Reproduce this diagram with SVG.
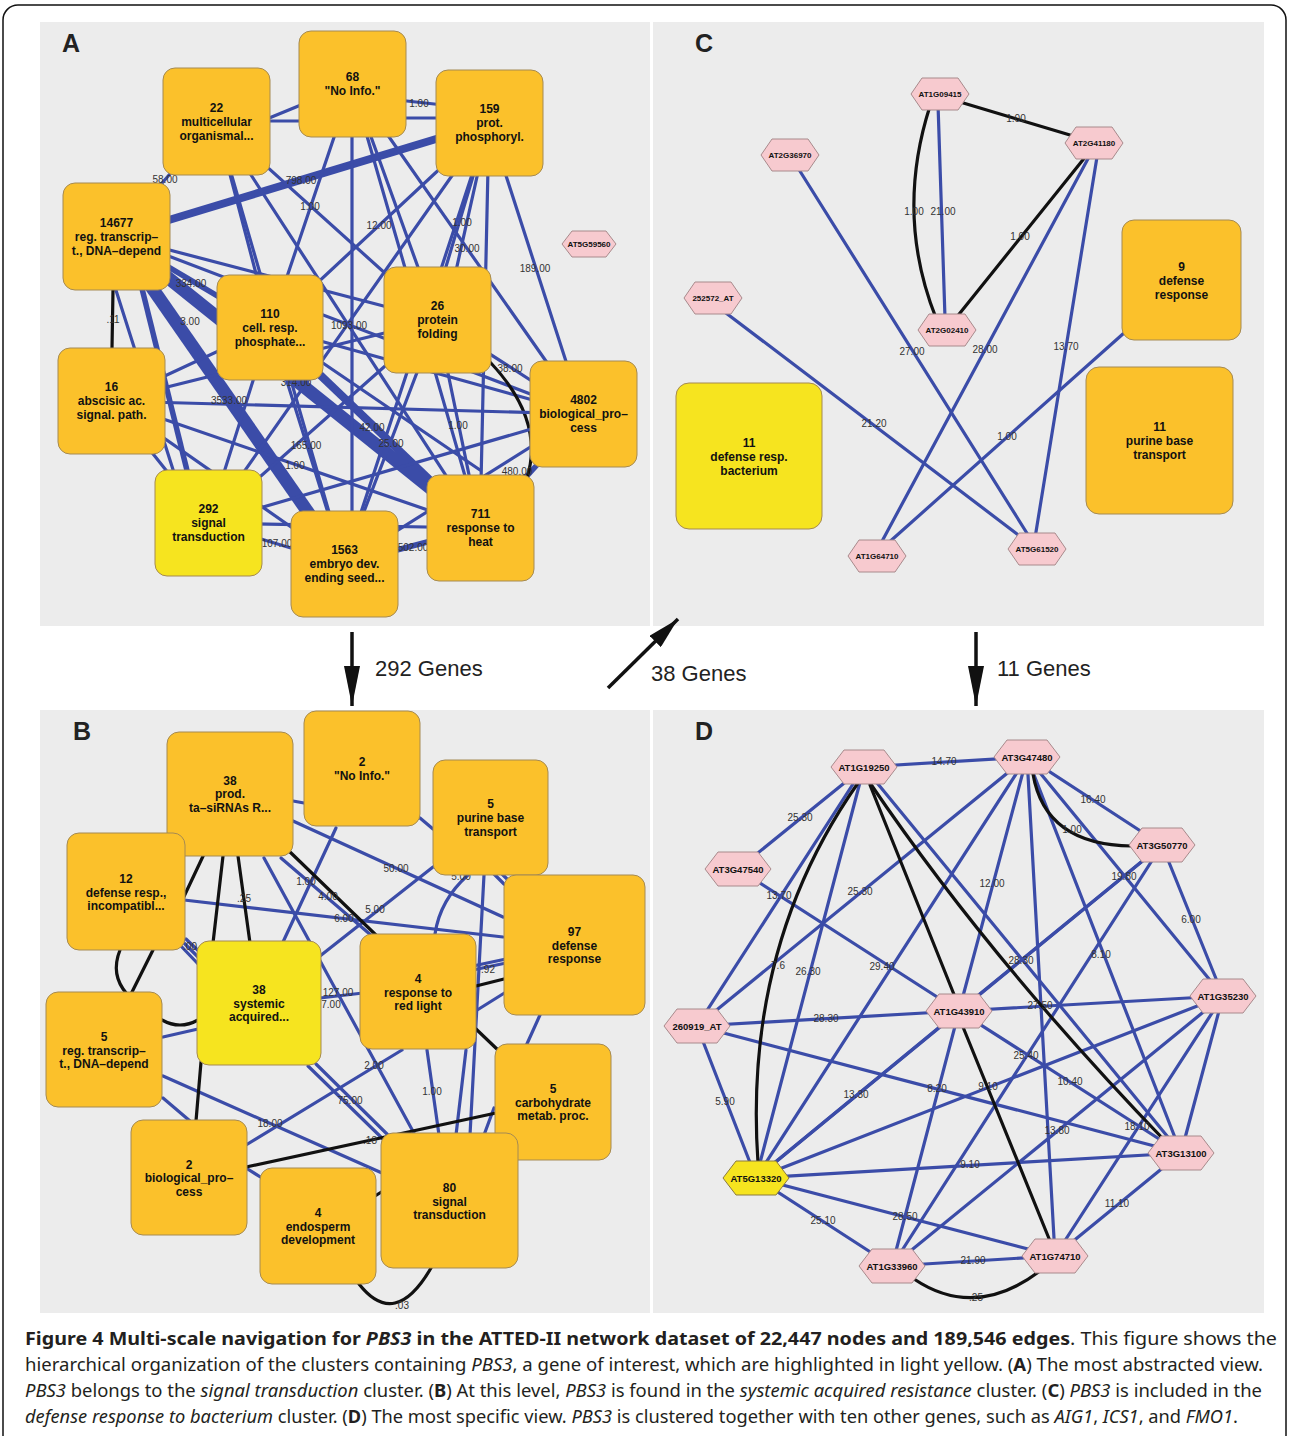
<svg xmlns="http://www.w3.org/2000/svg" width="1290" height="1436" viewBox="0 0 1290 1436">
<defs>
<style>
.bg{fill:#ececec}
.bx{fill:#fbc12b;stroke:#a58a52;stroke-width:1}
.by{fill:#f6e41f;stroke:#a58a52;stroke-width:1}
.hx{fill:#f7cacf;stroke:#a88a8c;stroke-width:1}
.hy{fill:#f6e41f;stroke:#8a7a40;stroke-width:1}
.e{stroke:#3b4ca8;stroke-width:3.2;fill:none;stroke-linecap:round}
.e5{stroke:#3b4ca8;stroke-width:5.5;fill:none}
.e8{stroke:#3b4ca8;stroke-width:8;fill:none}
.e13{stroke:#3b4ca8;stroke-width:13;fill:none}
.k{stroke:#111;stroke-width:3.2;fill:none;stroke-linecap:round}
.nl{font-family:"Liberation Sans",Arial,sans-serif;font-weight:bold;font-size:12px;fill:#111;text-anchor:middle}
.hc{font-family:"Liberation Sans",Arial,sans-serif;font-weight:bold;font-size:8px;fill:#111;text-anchor:middle}
.hd{font-family:"Liberation Sans",Arial,sans-serif;font-weight:bold;font-size:9.5px;fill:#111;text-anchor:middle}
.el{font-family:"Liberation Sans",Arial,sans-serif;font-size:10px;fill:#333;text-anchor:middle}
.pl{font-family:"Liberation Sans",Arial,sans-serif;font-weight:bold;font-size:25px;fill:#222}
.ar{stroke:#111;stroke-width:3.5;fill:none}
.gl{font-family:"Liberation Sans",Arial,sans-serif;font-size:22px;fill:#222}
.cap{font-family:"Noto Sans","Open Sans",sans-serif;font-size:18px;fill:#231f20}
</style>
<marker id="ah" viewBox="0 0 40 16" refX="40" refY="8" markerWidth="40" markerHeight="16" markerUnits="userSpaceOnUse" orient="auto"><path d="M0,0 L40,8 L0,16 Z" fill="#111"/></marker>
<marker id="ah2" viewBox="0 0 32 16" refX="32" refY="8" markerWidth="32" markerHeight="16" markerUnits="userSpaceOnUse" orient="auto"><path d="M0,0 L32,8 L0,16 Z" fill="#111"/></marker>
<polygon id="hexC" points="-29,0 -18,-16 18,-16 29,0 18,16 -18,16"/>
<polygon id="hexD" points="-33,0 -20,-17 20,-17 33,0 20,17 -20,17"/>
<polygon id="hexS" points="-27,0 -17,-13 17,-13 27,0 17,13 -17,13"/>
</defs>

<rect x="3" y="5" width="1283" height="1445" rx="15" fill="#fff" stroke="#111" stroke-width="1.5"/>

<!-- panel backgrounds -->
<rect class="bg" x="40" y="22" width="610" height="604"/>
<rect class="bg" x="653" y="22" width="611" height="604"/>
<rect class="bg" x="40" y="710" width="610" height="603"/>
<rect class="bg" x="653" y="710" width="611" height="603"/>
<text class="pl" x="62" y="52">A</text>
<text class="pl" x="695" y="52">C</text>
<text class="pl" x="73" y="740">B</text>
<text class="pl" x="695" y="740">D</text>

<!-- ============ PANEL A ============ -->
<g id="a-edges">
<line class="e13" x1="116" y1="236" x2="344" y2="564"/>
<line class="e13" x1="116" y1="236" x2="480" y2="528"/>
<line class="e8" x1="116" y1="236" x2="489" y2="123"/>
<line class="e8" x1="270" y1="327" x2="480" y2="528"/>
<line class="e5" x1="116" y1="236" x2="270" y2="327"/>
<line class="e5" x1="130" y1="240" x2="200" y2="523"/>
<line class="e" x1="100" y1="240" x2="190" y2="523"/>
<line class="e5" x1="344" y1="564" x2="480" y2="528"/>
<line class="e5" x1="480" y1="528" x2="583" y2="414"/>
<line class="e" x1="116" y1="236" x2="216" y2="121"/>
<line class="e" x1="116" y1="236" x2="437" y2="320"/>
<line class="e" x1="116" y1="236" x2="583" y2="414"/>
<line class="k" x1="113" y1="290" x2="112" y2="348"/>
<line class="e" x1="216" y1="140" x2="352" y2="84"/>
<line class="e" x1="216" y1="121" x2="352" y2="121"/>
<line class="e" x1="216" y1="121" x2="270" y2="327"/>
<line class="e" x1="216" y1="121" x2="344" y2="564"/>
<line class="e" x1="216" y1="121" x2="480" y2="528"/>
<line class="e" x1="216" y1="121" x2="437" y2="320"/>
<line class="e" x1="352" y1="95" x2="489" y2="110"/>
<line class="e" x1="352" y1="118" x2="489" y2="118"/>
<line class="e" x1="352" y1="84" x2="270" y2="327"/>
<line class="e" x1="352" y1="84" x2="352" y2="564"/>
<line class="e" x1="352" y1="84" x2="437" y2="320"/>
<line class="e" x1="352" y1="84" x2="583" y2="414"/>
<line class="e" x1="352" y1="84" x2="480" y2="528"/>
<line class="e" x1="489" y1="123" x2="270" y2="327"/>
<line class="e" x1="489" y1="123" x2="208" y2="523"/>
<line class="e" x1="489" y1="123" x2="430" y2="320"/>
<line class="e" x1="489" y1="123" x2="445" y2="320"/>
<line class="e" x1="489" y1="123" x2="480" y2="528"/>
<line class="e" x1="489" y1="123" x2="583" y2="414"/>
<line class="e" x1="489" y1="123" x2="344" y2="564"/>
<line class="e" x1="270" y1="327" x2="583" y2="414"/>
<line class="e" x1="270" y1="327" x2="208" y2="523"/>
<line class="e" x1="270" y1="327" x2="344" y2="564"/>
<line class="e" x1="437" y1="320" x2="480" y2="528"/>
<line class="e" x1="437" y1="320" x2="344" y2="564"/>
<line class="e" x1="437" y1="320" x2="208" y2="523"/>
<line class="e" x1="437" y1="320" x2="111" y2="401"/>
<line class="e" x1="437" y1="320" x2="583" y2="414"/>
<path class="k" d="M490,362 Q545,420 527,478"/>
<line class="e" x1="111" y1="401" x2="583" y2="414"/>
<line class="e" x1="111" y1="401" x2="480" y2="528"/>
<line class="e" x1="111" y1="401" x2="344" y2="564"/>
<line class="e" x1="111" y1="401" x2="208" y2="523"/>
<line class="e" x1="111" y1="401" x2="270" y2="327"/>
<line class="e" x1="208" y1="523" x2="583" y2="414"/>
<line class="e" x1="208" y1="523" x2="344" y2="564"/>
<line class="e" x1="208" y1="523" x2="480" y2="528"/>
<line class="e" x1="344" y1="564" x2="583" y2="414"/>
<line class="e" x1="270" y1="327" x2="480" y2="470"/>
</g>
<g id="a-edge-labels">
<text class="el" x="419" y="107">1.00</text>
<text class="el" x="165" y="183">58.00</text>
<text class="el" x="301" y="184">798.00</text>
<text class="el" x="310" y="210">1.00</text>
<text class="el" x="379" y="229">12.00</text>
<text class="el" x="462" y="226">1.00</text>
<text class="el" x="467" y="252">30.00</text>
<text class="el" x="535" y="272">189.00</text>
<text class="el" x="191" y="287">334.00</text>
<text class="el" x="113" y="323">.11</text>
<text class="el" x="190" y="325">3.00</text>
<text class="el" x="349" y="329">1093.00</text>
<text class="el" x="296" y="386">314.00</text>
<text class="el" x="229" y="404">3533.00</text>
<text class="el" x="372" y="431">42.00</text>
<text class="el" x="391" y="447">25.00</text>
<text class="el" x="306" y="449">165.00</text>
<text class="el" x="295" y="469">1.00</text>
<text class="el" x="458" y="429">1.00</text>
<text class="el" x="510" y="372">38.00</text>
<text class="el" x="517" y="475">480.00</text>
<text class="el" x="277" y="547">107.00</text>
<text class="el" x="413" y="551">502.00</text>
</g>
<g id="a-n22"><rect class="bx" x="163" y="68" width="107" height="107" rx="12"/><text class="nl"><tspan x="216.5" y="111.5">22</tspan><tspan x="216.5" y="125.5">multicellular</tspan><tspan x="216.5" y="139.5">organismal...</tspan></text></g>
<g id="a-n68"><rect class="bx" x="299" y="31" width="107" height="106" rx="12"/><text class="nl"><tspan x="352.5" y="81">68</tspan><tspan x="352.5" y="95">"No Info."</tspan></text></g>
<g id="a-n159"><rect class="bx" x="436" y="70" width="107" height="106" rx="12"/><text class="nl"><tspan x="489.5" y="113">159</tspan><tspan x="489.5" y="127">prot.</tspan><tspan x="489.5" y="141">phosphoryl.</tspan></text></g>
<g id="a-n14677"><rect class="bx" x="63" y="183" width="107" height="107" rx="12"/><text class="nl"><tspan x="116.5" y="226.5">14677</tspan><tspan x="116.5" y="240.5">reg. transcrip–</tspan><tspan x="116.5" y="254.5">t., DNA–depend</tspan></text></g>
<g id="a-n110"><rect class="bx" x="217" y="275" width="106" height="105" rx="12"/><text class="nl"><tspan x="270" y="317.5">110</tspan><tspan x="270" y="331.5">cell. resp.</tspan><tspan x="270" y="345.5">phosphate...</tspan></text></g>
<g id="a-n26"><rect class="bx" x="384" y="267" width="107" height="106" rx="12"/><text class="nl"><tspan x="437.5" y="310">26</tspan><tspan x="437.5" y="324">protein</tspan><tspan x="437.5" y="338">folding</tspan></text></g>
<g id="a-n16"><rect class="bx" x="58" y="348" width="107" height="106" rx="12"/><text class="nl"><tspan x="111.5" y="391">16</tspan><tspan x="111.5" y="405">abscisic ac.</tspan><tspan x="111.5" y="419">signal. path.</tspan></text></g>
<g id="a-n4802"><rect class="bx" x="530" y="361" width="107" height="106" rx="12"/><text class="nl"><tspan x="583.5" y="404">4802</tspan><tspan x="583.5" y="418">biological_pro–</tspan><tspan x="583.5" y="432">cess</tspan></text></g>
<g id="a-n292"><rect class="by" x="155" y="470" width="107" height="106" rx="12"/><text class="nl"><tspan x="208.5" y="513">292</tspan><tspan x="208.5" y="527">signal</tspan><tspan x="208.5" y="541">transduction</tspan></text></g>
<g id="a-n1563"><rect class="bx" x="291" y="511" width="107" height="106" rx="12"/><text class="nl"><tspan x="344.5" y="554">1563</tspan><tspan x="344.5" y="568">embryo dev.</tspan><tspan x="344.5" y="582">ending seed...</tspan></text></g>
<g id="a-n711"><rect class="bx" x="427" y="475" width="107" height="106" rx="12"/><text class="nl"><tspan x="480.5" y="518">711</tspan><tspan x="480.5" y="532">response to</tspan><tspan x="480.5" y="546">heat</tspan></text></g>
<g id="a-at5g59560"><use href="#hexS" class="hx" x="589" y="244"/><text class="hc" x="589" y="247">AT5G59560</text></g>

<!-- ============ PANEL B ============ -->
<g id="b-edges">
<line class="e" x1="293" y1="801" x2="304" y2="803"/>
<line class="e" x1="293" y1="821" x2="503" y2="917"/>
<line class="e" x1="264" y1="858" x2="415" y2="1135"/>
<line class="e" x1="281" y1="858" x2="400" y2="960"/>
<line class="e" x1="336" y1="828" x2="283" y2="942"/>
<line class="e" x1="433" y1="867" x2="320" y2="956"/>
<line class="e" x1="420" y1="818" x2="433" y2="829"/>
<path class="e" d="M468,875 Q440,900 435,934"/>
<line class="e" x1="484" y1="875" x2="470" y2="1135"/>
<line class="e" x1="490" y1="870" x2="504" y2="884"/>
<line class="e" x1="496" y1="868" x2="508" y2="880"/>
<line class="e" x1="184" y1="900" x2="503" y2="937"/>
<line class="e" x1="180" y1="945" x2="200" y2="966"/>
<line class="e" x1="183" y1="942" x2="203" y2="962"/>
<line class="e" x1="186" y1="939" x2="206" y2="958"/>
<line class="e" x1="320" y1="998" x2="363" y2="993"/>
<line class="e" x1="473" y1="966" x2="506" y2="959"/>
<line class="e" x1="473" y1="970" x2="506" y2="963"/>
<line class="e" x1="474" y1="1012" x2="506" y2="992"/>
<line class="e" x1="163" y1="1037" x2="198" y2="1029"/>
<line class="e" x1="163" y1="1076" x2="382" y2="1173"/>
<line class="e" x1="163" y1="1098" x2="190" y2="1121"/>
<line class="e" x1="308" y1="1066" x2="384" y2="1140"/>
<line class="e" x1="316" y1="1064" x2="390" y2="1137"/>
<line class="e" x1="246" y1="1145" x2="402" y2="1050"/>
<line class="e" x1="246" y1="1168" x2="262" y2="1178"/>
<line class="e" x1="427" y1="1050" x2="439" y2="1135"/>
<line class="e" x1="466" y1="1050" x2="456" y2="1135"/>
<line class="e" x1="540" y1="1015" x2="526" y2="1046"/>
<line class="e" x1="494" y1="1108" x2="484" y2="1135"/>
<line class="k" x1="205" y1="852" x2="180" y2="905"/>
<line class="k" x1="223" y1="856" x2="213" y2="943"/>
<line class="k" x1="238" y1="856" x2="250" y2="943"/>
<line class="k" x1="289" y1="851" x2="378" y2="937"/>
<path class="k" d="M120,950 Q110,975 127,994"/>
<line class="k" x1="153" y1="950" x2="131" y2="994"/>
<path class="k" d="M162,1020 Q180,1030 198,1020"/>
<line class="k" x1="201" y1="1062" x2="196" y2="1121"/>
<line class="k" x1="246" y1="1167" x2="496" y2="1113"/>
<line class="k" x1="476" y1="1029" x2="499" y2="1051"/>
<line class="k" x1="476" y1="986" x2="504" y2="979"/>
<path class="k" d="M359,1284 Q395,1330 431,1268"/>
<line class="k" x1="375" y1="1196" x2="383" y2="1191"/>
</g>
<g id="b-edge-labels">
<text class="el" x="306" y="885">1.00</text>
<text class="el" x="328" y="900">4.00</text>
<text class="el" x="244" y="902">.25</text>
<text class="el" x="396" y="872">50.00</text>
<text class="el" x="461" y="880">5.00</text>
<text class="el" x="375" y="913">5.00</text>
<text class="el" x="344" y="922">6.00</text>
<text class="el" x="190" y="950">.00</text>
<text class="el" x="338" y="996">127.00</text>
<text class="el" x="331" y="1008">7.00</text>
<text class="el" x="488" y="973">.92</text>
<text class="el" x="374" y="1069">2.00</text>
<text class="el" x="350" y="1104">75.00</text>
<text class="el" x="432" y="1095">1.00</text>
<text class="el" x="270" y="1127">18.00</text>
<text class="el" x="370" y="1144">.18</text>
<text class="el" x="402" y="1309">.03</text>
</g>
<g id="b-n38prod"><rect class="bx" x="167" y="732" width="126" height="124" rx="12"/><text class="nl"><tspan x="230" y="785">38</tspan><tspan x="230" y="798">prod.</tspan><tspan x="230" y="812">ta–siRNAs R...</tspan></text></g>
<g id="b-n2noinfo"><rect class="bx" x="304" y="711" width="116" height="115" rx="12"/><text class="nl"><tspan x="362" y="766">2</tspan><tspan x="362" y="780">"No Info."</tspan></text></g>
<g id="b-n5purine"><rect class="bx" x="433" y="760" width="115" height="115" rx="12"/><text class="nl"><tspan x="490.5" y="808">5</tspan><tspan x="490.5" y="822">purine base</tspan><tspan x="490.5" y="836">transport</tspan></text></g>
<g id="b-n12"><rect class="bx" x="67" y="833" width="118" height="117" rx="12"/><text class="nl"><tspan x="126" y="883">12</tspan><tspan x="126" y="897">defense resp.,</tspan><tspan x="126" y="910">incompatibl...</tspan></text></g>
<g id="b-n97"><rect class="bx" x="504" y="875" width="141" height="140" rx="12"/><text class="nl"><tspan x="574.5" y="936">97</tspan><tspan x="574.5" y="950">defense</tspan><tspan x="574.5" y="963">response</tspan></text></g>
<g id="b-n38sys"><rect class="by" x="197" y="941" width="124" height="124" rx="12"/><text class="nl"><tspan x="259" y="994">38</tspan><tspan x="259" y="1008">systemic</tspan><tspan x="259" y="1021">acquired...</tspan></text></g>
<g id="b-n4red"><rect class="bx" x="360" y="934" width="116" height="115" rx="12"/><text class="nl"><tspan x="418" y="983">4</tspan><tspan x="418" y="997">response to</tspan><tspan x="418" y="1010">red light</tspan></text></g>
<g id="b-n5reg"><rect class="bx" x="46" y="992" width="116" height="115" rx="12"/><text class="nl"><tspan x="104" y="1041">5</tspan><tspan x="104" y="1055">reg. transcrip–</tspan><tspan x="104" y="1068">t., DNA–depend</tspan></text></g>
<g id="b-n5carb"><rect class="bx" x="495" y="1044" width="116" height="116" rx="12"/><text class="nl"><tspan x="553" y="1093">5</tspan><tspan x="553" y="1107">carbohydrate</tspan><tspan x="553" y="1120">metab. proc.</tspan></text></g>
<g id="b-n2bio"><rect class="bx" x="131" y="1120" width="116" height="115" rx="12"/><text class="nl"><tspan x="189" y="1169">2</tspan><tspan x="189" y="1182">biological_pro–</tspan><tspan x="189" y="1196">cess</tspan></text></g>
<g id="b-n4endo"><rect class="bx" x="260" y="1168" width="116" height="116" rx="12"/><text class="nl"><tspan x="318" y="1217">4</tspan><tspan x="318" y="1231">endosperm</tspan><tspan x="318" y="1244">development</tspan></text></g>
<g id="b-n80sig"><rect class="bx" x="381" y="1133" width="137" height="135" rx="12"/><text class="nl"><tspan x="449.5" y="1192">80</tspan><tspan x="449.5" y="1206">signal</tspan><tspan x="449.5" y="1219">transduction</tspan></text></g>

<!-- ============ PANEL C ============ -->
<g id="c-edges">
<line class="e" x1="938" y1="104" x2="945" y2="318"/>
<line class="e" x1="1090" y1="155" x2="880" y2="545"/>
<line class="e" x1="1097" y1="157" x2="1035" y2="538"/>
<line class="e" x1="798" y1="168" x2="1030" y2="538"/>
<line class="e" x1="722" y1="310" x2="1025" y2="540"/>
<line class="e" x1="1124" y1="333" x2="886" y2="545"/>
<line class="k" x1="950" y1="99" x2="1080" y2="138"/>
<path class="k" d="M930,106 Q895,215 936,318"/>
<line class="k" x1="1086" y1="156" x2="956" y2="318"/>
</g>
<g id="c-edge-labels">
<text class="el" x="1016" y="122">1.00</text>
<text class="el" x="914" y="215">1.00</text>
<text class="el" x="943" y="215">21.00</text>
<text class="el" x="1020" y="240">1.00</text>
<text class="el" x="912" y="355">27.00</text>
<text class="el" x="985" y="353">28.00</text>
<text class="el" x="1066" y="350">13.70</text>
<text class="el" x="874" y="427">21.20</text>
<text class="el" x="1007" y="440">1.00</text>
</g>
<g id="c-at1g09415"><use href="#hexC" class="hx" x="940" y="94"/><text class="hc" x="940" y="97">AT1G09415</text></g>
<g id="c-at2g36970"><use href="#hexC" class="hx" x="790" y="155"/><text class="hc" x="790" y="158">AT2G36970</text></g>
<g id="c-at2g41180"><use href="#hexC" class="hx" x="1094" y="143"/><text class="hc" x="1094" y="146">AT2G41180</text></g>
<g id="c-252572"><use href="#hexC" class="hx" x="713" y="298"/><text class="hc" x="713" y="301">252572_AT</text></g>
<g id="c-at2g02410"><use href="#hexC" class="hx" x="947" y="330"/><text class="hc" x="947" y="333">AT2G02410</text></g>
<g id="c-at1g64710"><use href="#hexC" class="hx" x="877" y="556"/><text class="hc" x="877" y="559">AT1G64710</text></g>
<g id="c-at5g61520"><use href="#hexC" class="hx" x="1037" y="549"/><text class="hc" x="1037" y="552">AT5G61520</text></g>
<g id="c-n9def"><rect class="bx" x="1122" y="220" width="119" height="120" rx="12"/><text class="nl"><tspan x="1181.5" y="271">9</tspan><tspan x="1181.5" y="285">defense</tspan><tspan x="1181.5" y="299">response</tspan></text></g>
<g id="c-n11bact"><rect class="by" x="676" y="383" width="146" height="146" rx="13"/><text class="nl"><tspan x="749" y="447">11</tspan><tspan x="749" y="461">defense resp.</tspan><tspan x="749" y="475">bacterium</tspan></text></g>
<g id="c-n11pur"><rect class="bx" x="1086" y="367" width="147" height="147" rx="13"/><text class="nl"><tspan x="1159.5" y="431">11</tspan><tspan x="1159.5" y="445">purine base</tspan><tspan x="1159.5" y="459">transport</tspan></text></g>

<!-- ============ PANEL D ============ -->
<g id="d-edges">
<line class="e" x1="864" y1="767" x2="1027" y2="757"/>
<line class="e" x1="864" y1="767" x2="738" y2="869"/>
<line class="e" x1="864" y1="767" x2="697" y2="1026"/>
<line class="e" x1="864" y1="767" x2="756" y2="1178"/>
<line class="e" x1="864" y1="767" x2="1181" y2="1153"/>
<line class="e" x1="1027" y1="757" x2="1162" y2="845"/>
<line class="e" x1="1027" y1="757" x2="697" y2="1026"/>
<line class="e" x1="1027" y1="757" x2="756" y2="1178"/>
<line class="e" x1="1027" y1="757" x2="959" y2="1011"/>
<line class="e" x1="1027" y1="757" x2="1055" y2="1256"/>
<line class="e" x1="1027" y1="757" x2="1181" y2="1153"/>
<line class="e" x1="1027" y1="757" x2="1223" y2="996"/>
<line class="e" x1="738" y1="869" x2="959" y2="1011"/>
<line class="e" x1="1162" y1="845" x2="1223" y2="996"/>
<line class="e" x1="1162" y1="845" x2="959" y2="1011"/>
<line class="e" x1="1162" y1="845" x2="756" y2="1178"/>
<line class="e" x1="1162" y1="845" x2="892" y2="1266"/>
<line class="e" x1="697" y1="1026" x2="959" y2="1011"/>
<line class="e" x1="697" y1="1026" x2="1181" y2="1153"/>
<line class="e" x1="697" y1="1026" x2="756" y2="1178"/>
<line class="e" x1="959" y1="1011" x2="1223" y2="996"/>
<line class="e" x1="959" y1="1011" x2="1181" y2="1153"/>
<line class="e" x1="959" y1="1011" x2="756" y2="1178"/>
<line class="e" x1="959" y1="1011" x2="892" y2="1266"/>
<line class="e" x1="1223" y1="996" x2="756" y2="1178"/>
<line class="e" x1="1223" y1="996" x2="892" y2="1266"/>
<line class="e" x1="1223" y1="996" x2="1055" y2="1256"/>
<line class="e" x1="1223" y1="996" x2="1181" y2="1153"/>
<line class="e" x1="756" y1="1178" x2="1181" y2="1153"/>
<line class="e" x1="756" y1="1178" x2="892" y2="1266"/>
<line class="e" x1="756" y1="1178" x2="1055" y2="1256"/>
<line class="e" x1="1181" y1="1153" x2="1055" y2="1256"/>
<line class="e" x1="892" y1="1266" x2="1055" y2="1256"/>
<path class="k" d="M858,783 Q743,947 758,1163"/>
<line class="k" x1="870" y1="785" x2="955" y2="997"/>
<path class="k" d="M870,783 Q990,960 1167,1143"/>
<line class="k" x1="963" y1="1027" x2="1050" y2="1241"/>
<path class="k" d="M1033,774 Q1045,845 1132,846"/>
<path class="k" d="M914,1279 Q975,1320 1040,1271"/>
</g>
<g id="d-edge-labels">
<text class="el" x="944" y="765">14.70</text>
<text class="el" x="800" y="821">25.30</text>
<text class="el" x="1093" y="803">16.40</text>
<text class="el" x="1072" y="833">1.00</text>
<text class="el" x="779" y="899">13.70</text>
<text class="el" x="860" y="895">25.30</text>
<text class="el" x="992" y="887">12.00</text>
<text class="el" x="1124" y="880">19.80</text>
<text class="el" x="1191" y="923">6.00</text>
<text class="el" x="778" y="969">7.6</text>
<text class="el" x="808" y="975">26.30</text>
<text class="el" x="882" y="970">29.40</text>
<text class="el" x="1021" y="964">28.30</text>
<text class="el" x="1101" y="958">8.10</text>
<text class="el" x="1040" y="1009">27.50</text>
<text class="el" x="826" y="1022">28.30</text>
<text class="el" x="1026" y="1059">25.40</text>
<text class="el" x="1070" y="1085">10.40</text>
<text class="el" x="856" y="1098">13.30</text>
<text class="el" x="937" y="1092">8.20</text>
<text class="el" x="988" y="1090">9.10</text>
<text class="el" x="725" y="1105">5.90</text>
<text class="el" x="1057" y="1134">13.80</text>
<text class="el" x="1137" y="1130">18.10</text>
<text class="el" x="970" y="1168">9.10</text>
<text class="el" x="823" y="1224">25.10</text>
<text class="el" x="905" y="1220">28.50</text>
<text class="el" x="1117" y="1207">11.10</text>
<text class="el" x="973" y="1264">21.90</text>
<text class="el" x="976" y="1301">.25</text>
</g>
<g id="d-at1g19250"><use href="#hexD" class="hx" x="864" y="767"/><text class="hd" x="864" y="770.5">AT1G19250</text></g>
<g id="d-at3g47480"><use href="#hexD" class="hx" x="1027" y="757"/><text class="hd" x="1027" y="760.5">AT3G47480</text></g>
<g id="d-at3g47540"><use href="#hexD" class="hx" x="738" y="869"/><text class="hd" x="738" y="872.5">AT3G47540</text></g>
<g id="d-at3g50770"><use href="#hexD" class="hx" x="1162" y="845"/><text class="hd" x="1162" y="848.5">AT3G50770</text></g>
<g id="d-at1g43910"><use href="#hexD" class="hx" x="959" y="1011"/><text class="hd" x="959" y="1014.5">AT1G43910</text></g>
<g id="d-260919"><use href="#hexD" class="hx" x="697" y="1026"/><text class="hd" x="697" y="1029.5">260919_AT</text></g>
<g id="d-at1g35230"><use href="#hexD" class="hx" x="1223" y="996"/><text class="hd" x="1223" y="999.5">AT1G35230</text></g>
<g id="d-at5g13320"><use href="#hexD" class="hy" x="756" y="1178"/><text class="hd" x="756" y="1181.5">AT5G13320</text></g>
<g id="d-at3g13100"><use href="#hexD" class="hx" x="1181" y="1153"/><text class="hd" x="1181" y="1156.5">AT3G13100</text></g>
<g id="d-at1g33960"><use href="#hexD" class="hx" x="892" y="1266"/><text class="hd" x="892" y="1269.5">AT1G33960</text></g>
<g id="d-at1g74710"><use href="#hexD" class="hx" x="1055" y="1256"/><text class="hd" x="1055" y="1259.5">AT1G74710</text></g>

<!-- ============ ARROWS BETWEEN PANELS ============ -->
<g id="navigation-arrows">
<line class="ar" x1="352" y1="632" x2="352" y2="706" marker-end="url(#ah)"/>
<line class="ar" x1="608" y1="688" x2="678" y2="619" marker-end="url(#ah2)"/>
<line class="ar" x1="976" y1="632" x2="976" y2="706" marker-end="url(#ah)"/>
</g>
<text class="gl" x="375" y="676">292 Genes</text>
<text class="gl" x="651" y="681">38 Genes</text>
<text class="gl" x="997" y="676">11 Genes</text>

<!-- ============ CAPTION ============ -->
<text class="cap" x="25" y="1345" textLength="1252" lengthAdjust="spacingAndGlyphs"><tspan font-weight="bold">Figure 4 Multi-scale navigation for </tspan><tspan font-weight="bold" font-style="italic">PBS3</tspan><tspan font-weight="bold"> in the ATTED-II network dataset of 22,447 nodes and 189,546 edges</tspan>. This figure shows the</text>
<text class="cap" x="25" y="1371" textLength="1238" lengthAdjust="spacingAndGlyphs">hierarchical organization of the clusters containing <tspan font-style="italic">PBS3</tspan>, a gene of interest, which are highlighted in light yellow. (<tspan font-weight="bold">A</tspan>) The most abstracted view.</text>
<text class="cap" x="25" y="1397" textLength="1237" lengthAdjust="spacingAndGlyphs"><tspan font-style="italic">PBS3</tspan> belongs to the <tspan font-style="italic">signal transduction</tspan> cluster. (<tspan font-weight="bold">B</tspan>) At this level, <tspan font-style="italic">PBS3</tspan> is found in the <tspan font-style="italic">systemic acquired resistance</tspan> cluster. (<tspan font-weight="bold">C</tspan>) <tspan font-style="italic">PBS3</tspan> is included in the</text>
<text class="cap" x="25" y="1423" textLength="1213" lengthAdjust="spacingAndGlyphs"><tspan font-style="italic">defense response to bacterium</tspan> cluster. (<tspan font-weight="bold">D</tspan>) The most specific view. <tspan font-style="italic">PBS3</tspan> is clustered together with ten other genes, such as <tspan font-style="italic">AIG1</tspan>, <tspan font-style="italic">ICS1</tspan>, and <tspan font-style="italic">FMO1</tspan>.</text>
</svg>
